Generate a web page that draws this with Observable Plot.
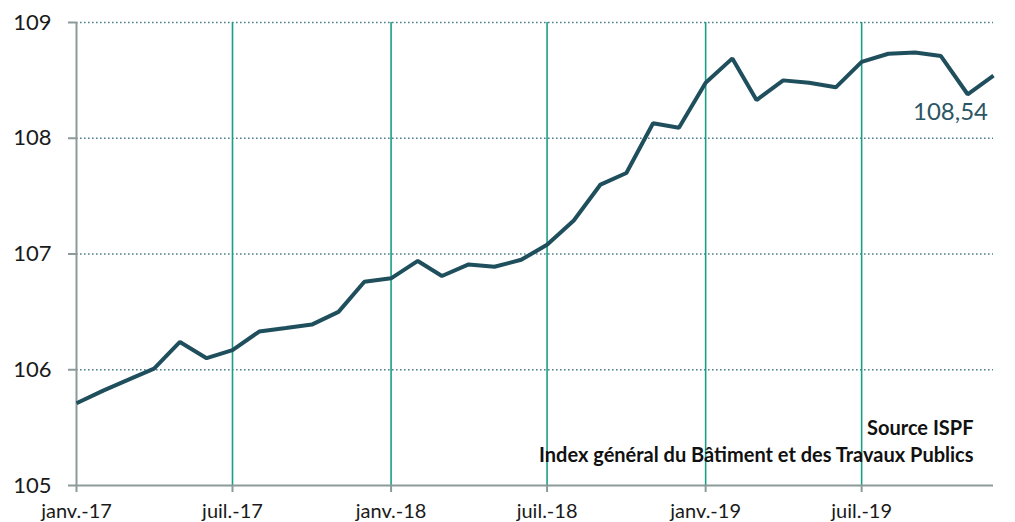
<!DOCTYPE html>
<html>
<head>
<meta charset="utf-8">
<script src="https://cdn.jsdelivr.net/npm/d3@7"></script>
<script src="https://cdn.jsdelivr.net/npm/@observablehq/plot@0.6"></script>
<style>
  html, body { margin: 0; padding: 0; background: #fff; }
  #chart svg { display: block; }
</style>
</head>
<body>
<div id="chart"></div>
<script>
// Monthly index values, janv. 2017 → déc. 2019
const startYear = 2017;
const values = [
  105.71, 105.82, 105.91, 106.01, 106.24, 106.10, 106.17, 106.33, 106.36, 106.39, 106.50, 106.76,
  106.79, 106.94, 106.81, 106.91, 106.89, 106.95, 107.08, 107.29, 107.60, 107.70, 108.13, 108.09,
  108.48, 108.69, 108.33, 108.50, 108.48, 108.44, 108.66, 108.73, 108.74, 108.71, 108.38, 108.54
];
const tickDates = ["2017-01", "2017-07", "2018-01", "2018-07", "2019-01", "2019-07"];
const tickLabels = ["janv.-17", "juil.-17", "janv.-18", "juil.-18", "janv.-19", "juil.-19"];
const yTicks = [105, 106, 107, 108, 109];
const yGrid = [106, 107, 108, 109];
const lastLabel = "108,54";
const sourceLines = ["Source ISPF", "Index général du Bâtiment et des Travaux Publics"];

const data = values.map((v, i) => ({date: new Date(Date.UTC(startYear, i, 1)), value: v}));
const ticks = tickDates.map(s => new Date(s + "-01T00:00:00Z"));
const labelOf = new Map(ticks.map((d, i) => [+d, tickLabels[i]]));
const last = data[data.length - 1];

const font = "Lato, 'Open Sans', sans-serif";

const chart = Plot.plot({
  width: 1015,
  height: 522,
  marginLeft: 76,
  marginRight: 22,
  marginTop: 22,
  marginBottom: 37,
  style: {fontFamily: font, background: "#fff"},
  x: {type: "utc", domain: [data[0].date, last.date]},
  y: {domain: [105, 109]},
  marks: [
    Plot.ruleY(yGrid, {stroke: "#4d7f8c", strokeWidth: 1.6, strokeDasharray: "1.6,2.4"}),
    Plot.ruleX(ticks.slice(1), {stroke: "#1a9e86", strokeWidth: 1.6}),
    Plot.ruleX([data[0].date], {stroke: "#8c9a9a", strokeWidth: 2}),
    Plot.ruleY([105], {stroke: "#8c9a9a", strokeWidth: 2}),
    Plot.axisY({ticks: yTicks, tickSize: 8, tickPadding: 17, fontSize: 22, stroke: "#8c9a9a", strokeWidth: 2, color: "#1a1a1a", tickFormat: d => String(d), label: null}),
    Plot.axisX({ticks: ticks, tickSize: 7, tickPadding: 11, fontSize: 20, stroke: "#8c9a9a", strokeWidth: 2, color: "#1a1a1a", tickFormat: d => labelOf.get(+d), label: null}),
    Plot.line(data, {x: "date", y: "value", stroke: "#1f4f5c", strokeWidth: 4, strokeLinejoin: "miter", strokeLinecap: "butt"}),
    Plot.text([last], {x: "date", y: "value", text: () => lastLabel, dx: -43, dy: 37, fontSize: 24, fill: "#2c5566"}),
    Plot.text([sourceLines[0]], {frameAnchor: "bottom-right", dx: -20, dy: -51, text: d => d, fontSize: 20, fontWeight: "bold", fill: "#111", textAnchor: "end"}),
    Plot.text([sourceLines[1]], {frameAnchor: "bottom-right", dx: -20, dy: -24, text: d => d, fontSize: 20, fontWeight: "bold", fill: "#111", textAnchor: "end"})
  ]
});
document.getElementById("chart").appendChild(chart);
</script>
</body>
</html>
